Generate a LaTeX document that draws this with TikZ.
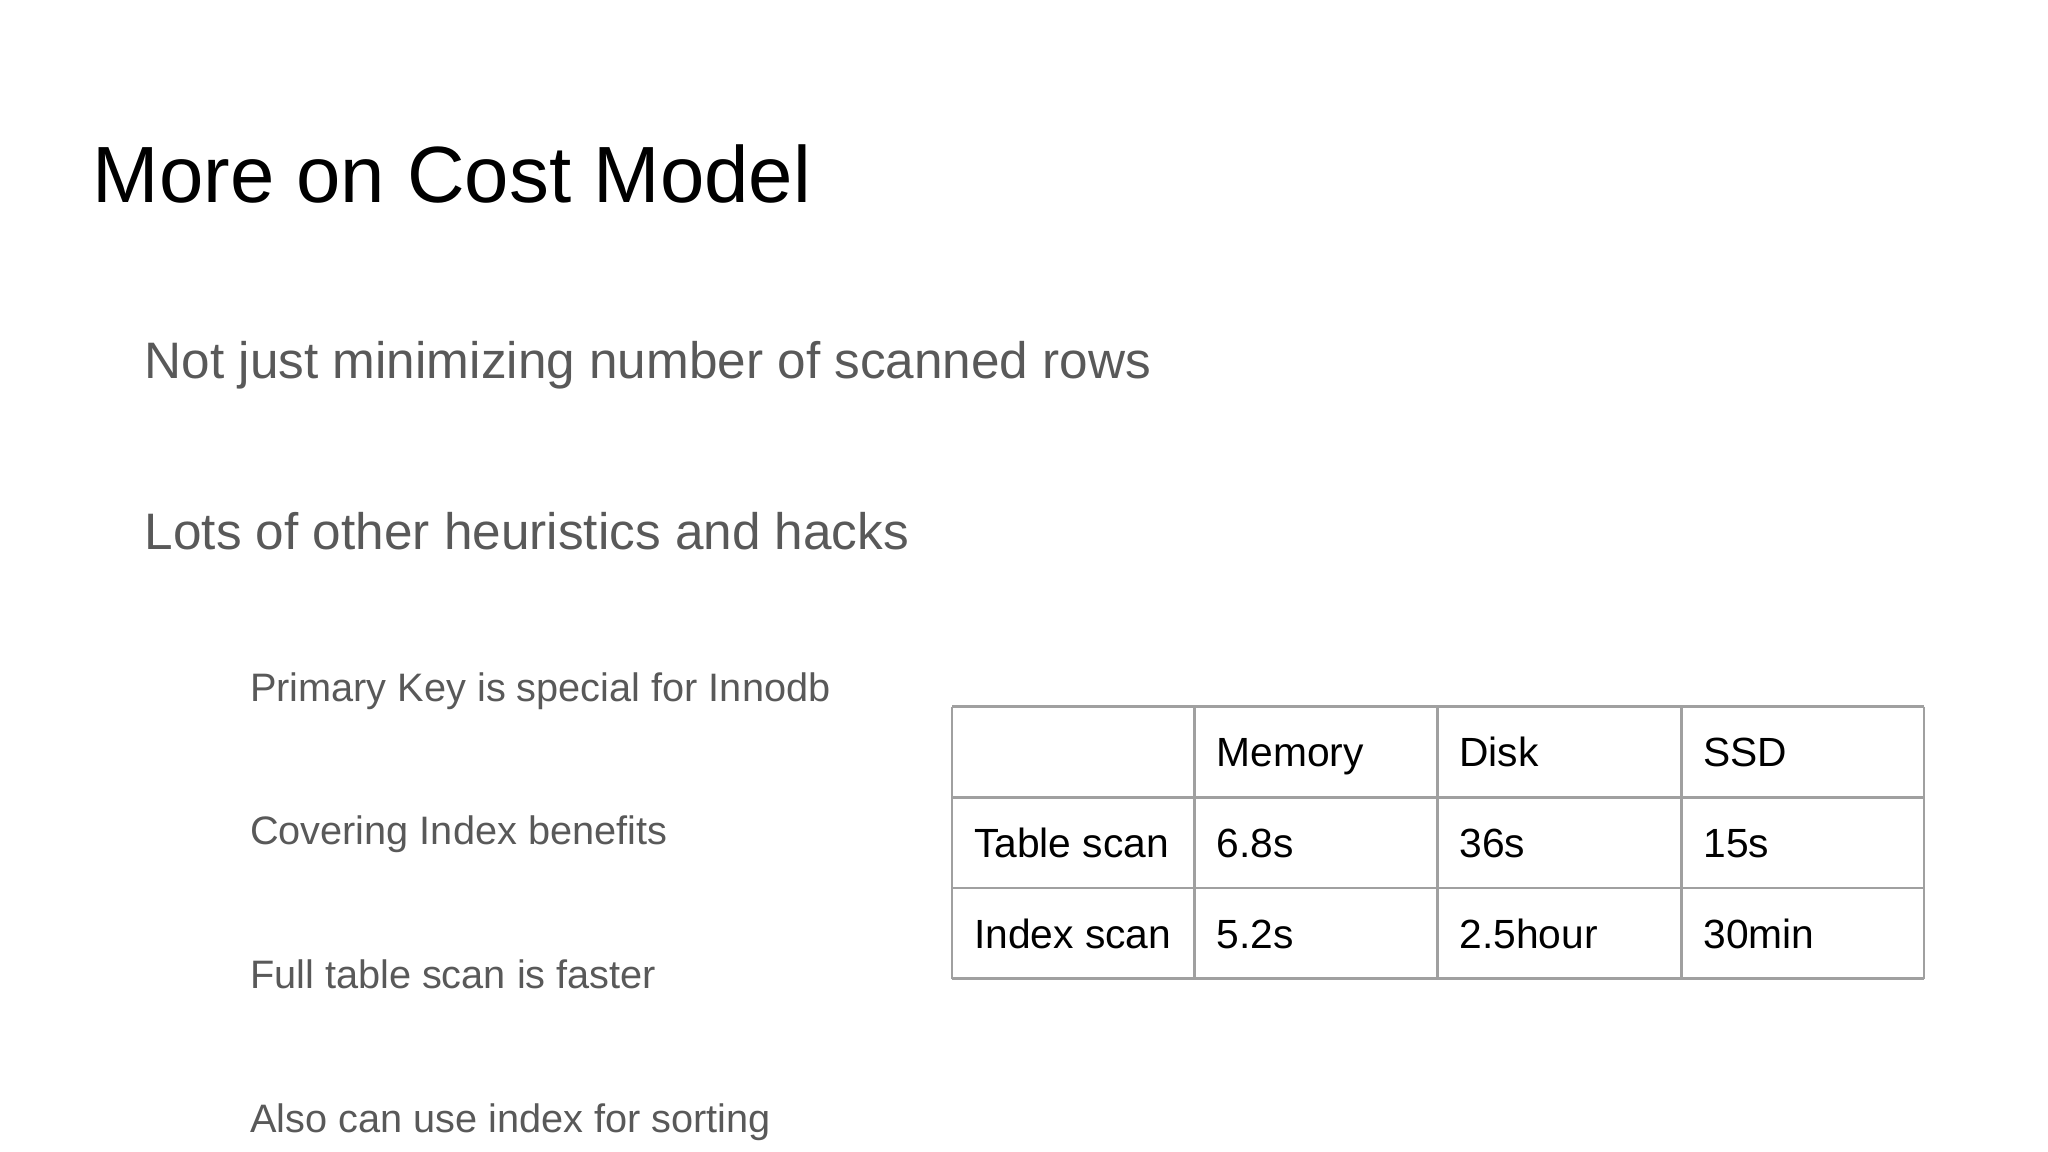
\documentclass[tikz,border=0pt]{standalone}
\usepackage{fontspec}
\setmainfont{Liberation Sans}
\definecolor{bodygray}{HTML}{595959}
\definecolor{gridgray}{HTML}{A0A0A0}
\tikzset{
  title/.style={anchor=base west,font=\fontsize{22.7}{27}\selectfont,inner sep=0},
  bullet/.style={anchor=base west,text=bodygray,font=\fontsize{14.6}{17}\selectfont,inner sep=0},
  subitem/.style={anchor=base west,text=bodygray,font=\fontsize{11.3}{13}\selectfont,inner sep=0},
  cell/.style={anchor=base west,font=\fontsize{11.6}{13}\selectfont,inner sep=0},
}
\begin{document}
\begin{tikzpicture}[x=0.013333cm,y=-0.013333cm]
\useasboundingbox (0,0) rectangle (1536,864);
\node[title] (ttl) at (69,152) {More on Cost Model};
\node[bullet] (b1) at (108,284) {Not just minimizing number of scanned rows};
\node[bullet] (b2) at (108,412) {Lots of other heuristics and hacks};
\node[subitem] (s1) at (187,526) {Primary Key is special for Innodb};
\node[subitem] (s2) at (187,633) {Covering Index benefits};
\node[subitem] (s3) at (187,741) {Full table scan is faster};
\node[subitem] (s4) at (187,849) {Also can use index for sorting};
% table grid
\foreach \x in {714,896,1078,1261,1443}
  \draw[gridgray,line width=0.8pt] (\x,530) -- (\x,734);
\foreach \y in {530,598,666,734}
  \draw[gridgray,line width=0.8pt] (714,\y) -- (1443,\y);
% table cells
\node[cell] (hmem) at (912,575) {Memory};
\node[cell] (hdisk) at (1094,575) {Disk};
\node[cell] (hssd) at (1277,575) {SSD};
\node[cell] (rtab) at (730,643) {Table scan};
\node[cell] (tmem) at (912,643) {6.8s};
\node[cell] (tdisk) at (1094,643) {36s};
\node[cell] (tssd) at (1277,643) {15s};
\node[cell] (ridx) at (730,711) {Index scan};
\node[cell] (imem) at (912,711) {5.2s};
\node[cell] (idisk) at (1094,711) {2.5hour};
\node[cell] (issd) at (1277,711) {30min};
\end{tikzpicture}
\end{document}
